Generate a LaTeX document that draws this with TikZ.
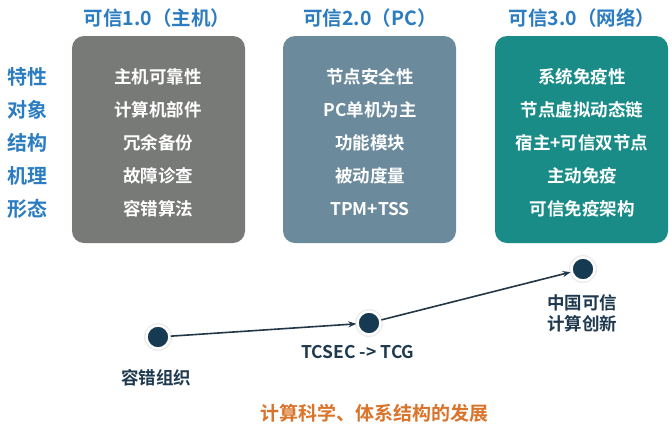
\documentclass[tikz,border=0pt]{standalone}
\usepackage{fontspec}
\setmainfont{Noto Sans CJK SC}[BoldFont={* Bold}]
\usetikzlibrary{arrows.meta}
\definecolor{titleblue}{HTML}{2B7CC0}
\definecolor{boxgray}{HTML}{787A77}
\definecolor{boxslate}{HTML}{6B8A9C}
\definecolor{boxteal}{HTML}{1A8C88}
\definecolor{dotblue}{HTML}{163A52}
\definecolor{linedark}{HTML}{213747}
\definecolor{orangetxt}{HTML}{D9742A}
\definecolor{labeldark}{HTML}{1F3A4E}
\tikzset{
  panel/.style={rounded corners=12pt, minimum width=173pt, minimum height=207pt, inner sep=0pt},
  title/.style={font=\fontsize{19.5}{22}\selectfont\bfseries, text=titleblue},
  rowlab/.style={font=\fontsize{20}{22}\selectfont\bfseries, text=titleblue},
  rowtxt/.style={font=\fontsize{17.5}{20}\selectfont\bfseries, text=white},
  milestone/.style={circle, fill=dotblue, draw=white, line width=2.5pt, minimum size=23pt, inner sep=0pt},
  halo/.style={circle, fill=black!8, minimum size=28pt, inner sep=0pt},
  conn/.style={draw=linedark, line width=1.6pt, -{Stealth[length=8pt,width=6pt]}},
  mlabel/.style={font=\fontsize{17.5}{21}\selectfont\bfseries, text=labeldark, align=center},
}
\begin{document}
\begin{tikzpicture}[x=1pt,y=-1pt]
\useasboundingbox (0,0) rectangle (672,432);
\fill[white] (0,0) rectangle (672,432);
% panels
\node[panel, fill=boxgray]  (p1) at (158.5,139.5) {};
\node[panel, fill=boxslate] (p2) at (369.5,139.5) {};
\node[panel, fill=boxteal]  (p3) at (581.5,139.5) {};
% titles
\node[title] (t1) at (157,18) {可信1.0（主机）};
\node[title] (t2) at (370,18) {可信2.0（PC）};
\node[title] (t3) at (582,18) {可信3.0（网络）};
% row labels
\node[rowlab] (l1) at (27,77)  {特性};
\node[rowlab] (l2) at (27,110) {对象};
\node[rowlab] (l3) at (27,143) {结构};
\node[rowlab] (l4) at (27,176) {机理};
\node[rowlab] (l5) at (27,209) {形态};
% panel 1 rows
\node[rowtxt] (a1) at (158,77)  {主机可靠性};
\node[rowtxt] (a2) at (158,110) {计算机部件};
\node[rowtxt] (a3) at (158,143) {冗余备份};
\node[rowtxt] (a4) at (158,176) {故障诊查};
\node[rowtxt] (a5) at (158,209) {容错算法};
% panel 2 rows
\node[rowtxt] (b1) at (370,77)  {节点安全性};
\node[rowtxt] (b2) at (370,110) {PC单机为主};
\node[rowtxt] (b3) at (370,143) {功能模块};
\node[rowtxt] (b4) at (370,176) {被动度量};
\node[rowtxt] (b5) at (370,209) {TPM+TSS};
% panel 3 rows
\node[rowtxt] (c1) at (582,77)  {系统免疫性};
\node[rowtxt] (c2) at (582,110) {节点虚拟动态链};
\node[rowtxt] (c3) at (582,143) {宿主+可信双节点};
\node[rowtxt] (c4) at (582,176) {主动免疫};
\node[rowtxt] (c5) at (582,209) {可信免疫架构};
% milestones
\node[halo] (h1) at (158,337) {};
\node[halo] (h2) at (369,323) {};
\node[halo] (h3) at (583,269) {};
\node[milestone] (d1) at (158,337) {};
\node[milestone] (d2) at (369,323) {};
\node[milestone] (d3) at (583,269) {};
\draw[conn] (d1) -- (d2);
\draw[conn] (d2) -- (d3);
% milestone labels
\node[mlabel] (m1) at (156,378) {容错组织};
\node[mlabel] (m2) at (358,352) {TCSEC -> TCG};
\node[mlabel] (m3) at (582,313) {中国可信\\计算创新};
% bottom caption
\node[font=\fontsize{19}{21}\selectfont\bfseries, text=orangetxt] (cap) at (374,413) {计算科学、体系结构的发展};
\end{tikzpicture}
\end{document}
